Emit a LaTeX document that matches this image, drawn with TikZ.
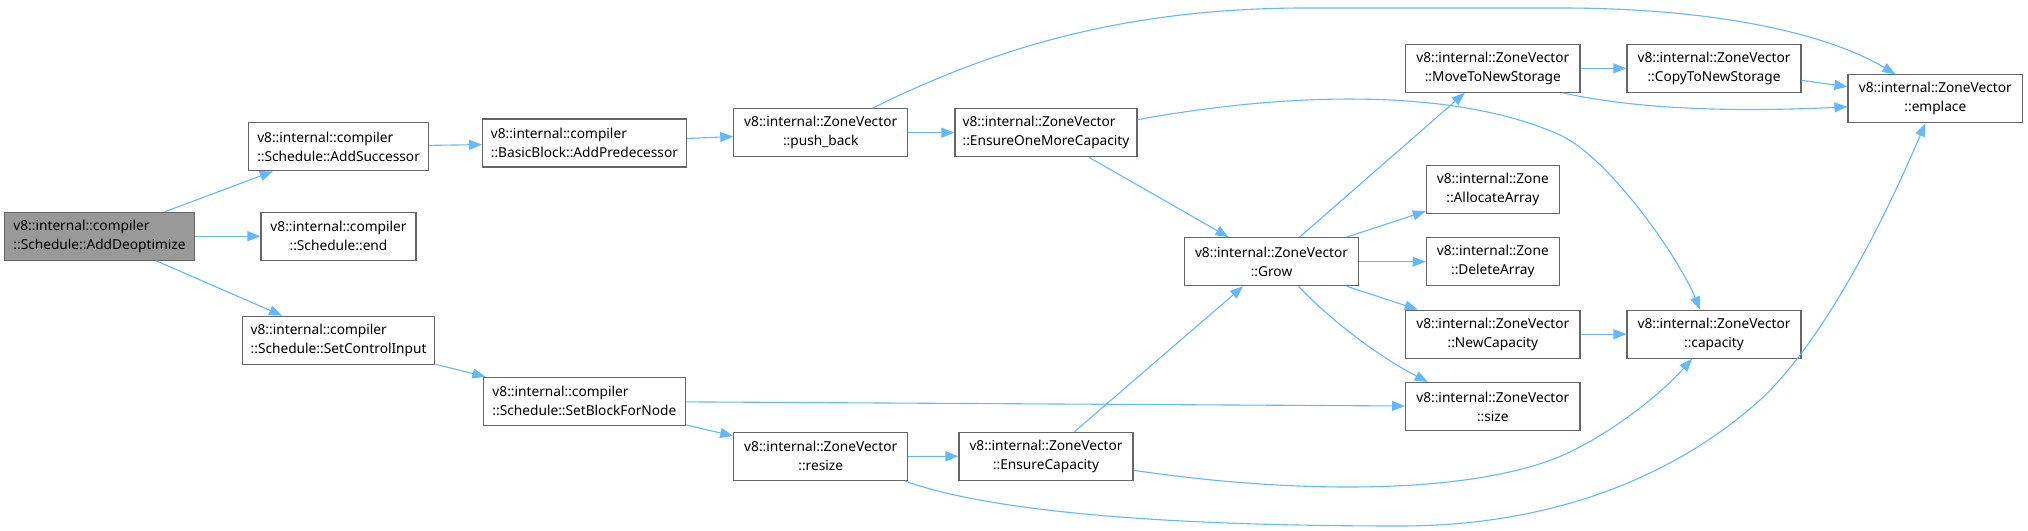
\documentclass[tikz,border=0pt]{standalone}
\usepackage{fontspec}
\setmainfont{Noto Sans}
\usepackage{tikz}
\usetikzlibrary{arrows.meta, positioning, calc}
\usepackage{xcolor}
\definecolor{edgeblue}{HTML}{63B8FF}
\definecolor{boxline}{HTML}{666666}
\definecolor{rootfill}{HTML}{999999}

\begin{document}
\begin{tikzpicture}[x=1pt, y=1pt,
    fn/.style={draw=boxline, line width=1.2pt, fill=white, rectangle, align=center,
      minimum height=48pt, inner sep=2pt, font=\fontsize{13.7}{19}\selectfont},
    rootfn/.style={fn, fill=rootfill},
    call/.style={draw=edgeblue, line width=1.1pt, -{Triangle[length=13pt,width=10pt]}}]
  \useasboundingbox (0,0) rectangle (2028,530);
  % caller
  \node[rootfn, align=left, minimum width=190.5pt] (deopt) at (99.5,293.8) {v8::internal::compiler\\::Schedule::AddDeoptimize};
  % Schedule
  \node[fn, align=left, minimum width=180pt] (addsucc) at (338.6,383.2) {v8::internal::compiler\\::Schedule::AddSuccessor};
  \node[fn, minimum width=155pt] (schedend) at (338.5,293.8) {v8::internal::compiler\\::Schedule::end};
  \node[fn, align=left, minimum width=192.4pt] (ctrlin) at (338.6,189.8) {v8::internal::compiler\\::Schedule::SetControlInput};
  \node[fn, align=left, minimum width=203.6pt] (addpred) at (584.4,387) {v8::internal::compiler\\::BasicBlock::AddPredecessor};
  \node[fn, align=left, minimum width=201.8pt] (setblock) at (584.4,128.7) {v8::internal::compiler\\::Schedule::SetBlockForNode};
  % ZoneVector
  \node[fn, minimum width=173.7pt] (pushback) at (820.7,397.3) {v8::internal::ZoneVector\\::push\_back};
  \node[fn, minimum width=173.7pt] (resize) at (820.7,73.7) {v8::internal::ZoneVector\\::resize};
  \node[fn, align=left, minimum width=182pt] (onemore) at (1046,397.3) {v8::internal::ZoneVector\\::EnsureOneMoreCapacity};
  \node[fn, minimum width=174pt] (ensurecap) at (1046,73.7) {v8::internal::ZoneVector\\::EnsureCapacity};
  \node[fn, minimum width=174pt] (grow) at (1271.5,268.3) {v8::internal::ZoneVector\\::Grow};
  \node[fn, minimum width=174.4pt] (movestore) at (1492.8,461.7) {v8::internal::ZoneVector\\::MoveToNewStorage};
  \node[fn, minimum width=133pt] (allocarr) at (1492.8,340.7) {v8::internal::Zone\\::AllocateArray};
  \node[fn, minimum width=133pt] (delarr) at (1492.8,268.3) {v8::internal::Zone\\::DeleteArray};
  \node[fn, minimum width=174.4pt] (newcap) at (1492.8,195.8) {v8::internal::ZoneVector\\::NewCapacity};
  \node[fn, minimum width=174.4pt] (vsize) at (1492.8,123.5) {v8::internal::ZoneVector\\::size};
  \node[fn, minimum width=174pt] (copystore) at (1714,461.7) {v8::internal::ZoneVector\\::CopyToNewStorage};
  \node[fn, minimum width=174pt] (capacity) at (1714,195.8) {v8::internal::ZoneVector\\::capacity};
  \node[fn, minimum width=174.6pt] (emplace) at (1935.3,431.2) {v8::internal::ZoneVector\\::emplace};

  % straight calls
  \draw[call] (deopt) -- (addsucc);
  \draw[call] (deopt) -- (schedend);
  \draw[call] (deopt) -- (ctrlin);
  \draw[call] (addsucc) -- (addpred);
  \draw[call] (addpred) -- (pushback);
  \draw[call] (pushback) -- (onemore);
  \draw[call] (onemore) -- (grow);
  \draw[call] (ctrlin) -- (setblock);
  \draw[call] (setblock) -- (resize);
  \draw[call] (setblock) -- (vsize);
  \draw[call] (resize) -- (ensurecap);
  \draw[call] (ensurecap) -- (grow);
  \draw[call] (grow) -- (movestore);
  \draw[call] (grow) -- (allocarr);
  \draw[call] (grow) -- (delarr);
  \draw[call] (grow) -- (newcap);
  \draw[call] (movestore) -- (copystore);
  \draw[call] (copystore) -- (emplace);
  \draw[call] (newcap) -- (capacity);

  % curved calls
  \draw[call] ([xshift=52pt]pushback.north) .. controls (1000,485) and (1130,521) .. (1300,522)
    -- (1560,522) .. controls (1720,522) and (1830,495) .. ([xshift=-40pt]emplace.north);
  \draw[call] ([yshift=13pt]onemore.east) .. controls (1300,440) and (1460,440) .. (1560,395)
    .. controls (1610,372) and (1680,270) .. ([xshift=-14pt]capacity.north);
  \draw[call] ([xshift=70pt]movestore.south) .. controls (1640,420) and (1740,418) .. ([yshift=-8pt]emplace.west);
  \draw[call] ([xshift=27pt]grow.south) .. controls (1335,205) and (1385,170) .. ([xshift=-65pt]vsize.north);
  \draw[call] ([yshift=-14pt]ensurecap.east) .. controls (1300,35) and (1480,35) .. (1570,78)
    .. controls (1615,100) and (1660,135) .. ([xshift=-22pt]capacity.south);
  \draw[call] ([xshift=84pt]resize.south) .. controls (985,20) and (1150,4) .. (1400,4)
    .. controls (1560,4) and (1680,58) .. (1760,130)
    .. controls (1820,185) and (1880,300) .. ([xshift=-10pt]emplace.south);
\end{tikzpicture}
\end{document}
